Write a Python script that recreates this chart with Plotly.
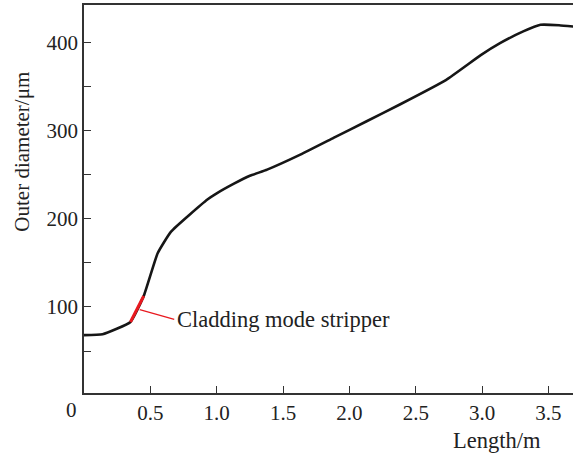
import plotly.graph_objects as go

length_m = [0, 0.14, 0.35, 0.45, 0.555, 0.656, 0.93, 1.0, 1.13, 1.25, 1.38, 1.63, 1.88, 2.13, 2.38, 2.73, 2.99, 3.135, 3.31, 3.44, 3.58, 3.7]
diam_um = [68, 69, 83, 112.5, 161, 185.6, 222, 229, 240, 249, 256, 273, 292, 311, 330, 358, 386, 399.6, 413, 420.5, 420, 418.3]

stripper_x = [0.35, 0.45]
stripper_y = [83, 112.5]

leader_x = [0.42, 0.68]
leader_y = [97, 86]
label_text = "Cladding mode stripper"

x_ticks = [0.5, 1.0, 1.5, 2.0, 2.5, 3.0, 3.5]
x_ticklabels = ["0.5", "1.0", "1.5", "2.0", "2.5", "3.0", "3.5"]
y_ticks = [100, 200, 300, 400]

FONT = "Liberation Serif"
FS = 21

fig = go.Figure()
fig.add_trace(go.Scatter(x=length_m, y=diam_um, mode="lines", line_shape="spline",
                         line=dict(color="#161616", width=2.6, smoothing=0.4), hoverinfo="skip"))
fig.add_trace(go.Scatter(x=stripper_x, y=stripper_y, mode="lines",
                         line=dict(color="#e8191f", width=3), hoverinfo="skip"))
fig.add_trace(go.Scatter(x=leader_x, y=leader_y, mode="lines",
                         line=dict(color="#e8191f", width=1.2), hoverinfo="skip"))

fig.add_annotation(x=leader_x[1], y=leader_y[1], text=label_text, showarrow=False,
                   xanchor="left", yanchor="middle", xshift=1,
                   font=dict(family=FONT, size=22.5, color="#222"))
fig.add_annotation(x=0, y=0, xref="paper", yref="paper", text="0", showarrow=False,
                   xanchor="center", yanchor="top", xshift=-13, yshift=-3,
                   font=dict(family=FONT, size=FS, color="#222"))
fig.add_annotation(x=3.113, y=0, xref="x", yref="paper", text="Length/m", showarrow=False,
                   xanchor="center", yanchor="top", yshift=-33,
                   font=dict(family=FONT, size=22.5, color="#222"))
fig.add_annotation(x=0, y=0.622, xref="paper", yref="paper", text="Outer diameter/μm", showarrow=False,
                   textangle=-90, xanchor="center", yanchor="middle", xshift=-62,
                   font=dict(family=FONT, size=FS, color="#222"))

fig.update_layout(
    width=573, height=454,
    margin=dict(l=84, r=0, t=5, b=61, autoexpand=False),
    paper_bgcolor="white", plot_bgcolor="white",
    showlegend=False,
    font=dict(family=FONT, size=FS, color="#222"),
    xaxis=dict(range=[0, 3.685], tickvals=x_ticks, ticktext=x_ticklabels,
               ticks="inside", ticklen=7, tickwidth=1.4, tickcolor="#333",
               showline=True, linecolor="#333", linewidth=1.6, mirror=True,
               showgrid=False, zeroline=False, automargin=False),
    yaxis=dict(range=[2.3, 443], tickvals=y_ticks,
               ticks="inside", ticklen=7, tickwidth=1.4, tickcolor="#333",
               minor=dict(tickvals=[50, 150, 250, 350], ticks="inside", ticklen=7,
                          tickwidth=1.4, tickcolor="#333", showgrid=False),
               showline=True, linecolor="#333", linewidth=1.6, mirror=False,
               showgrid=False, zeroline=False, automargin=False),
)

fig.write_html("out.html", config={"displayModeBar": False},
               post_script="document.body.style.margin='0';document.body.style.overflow='hidden';")
